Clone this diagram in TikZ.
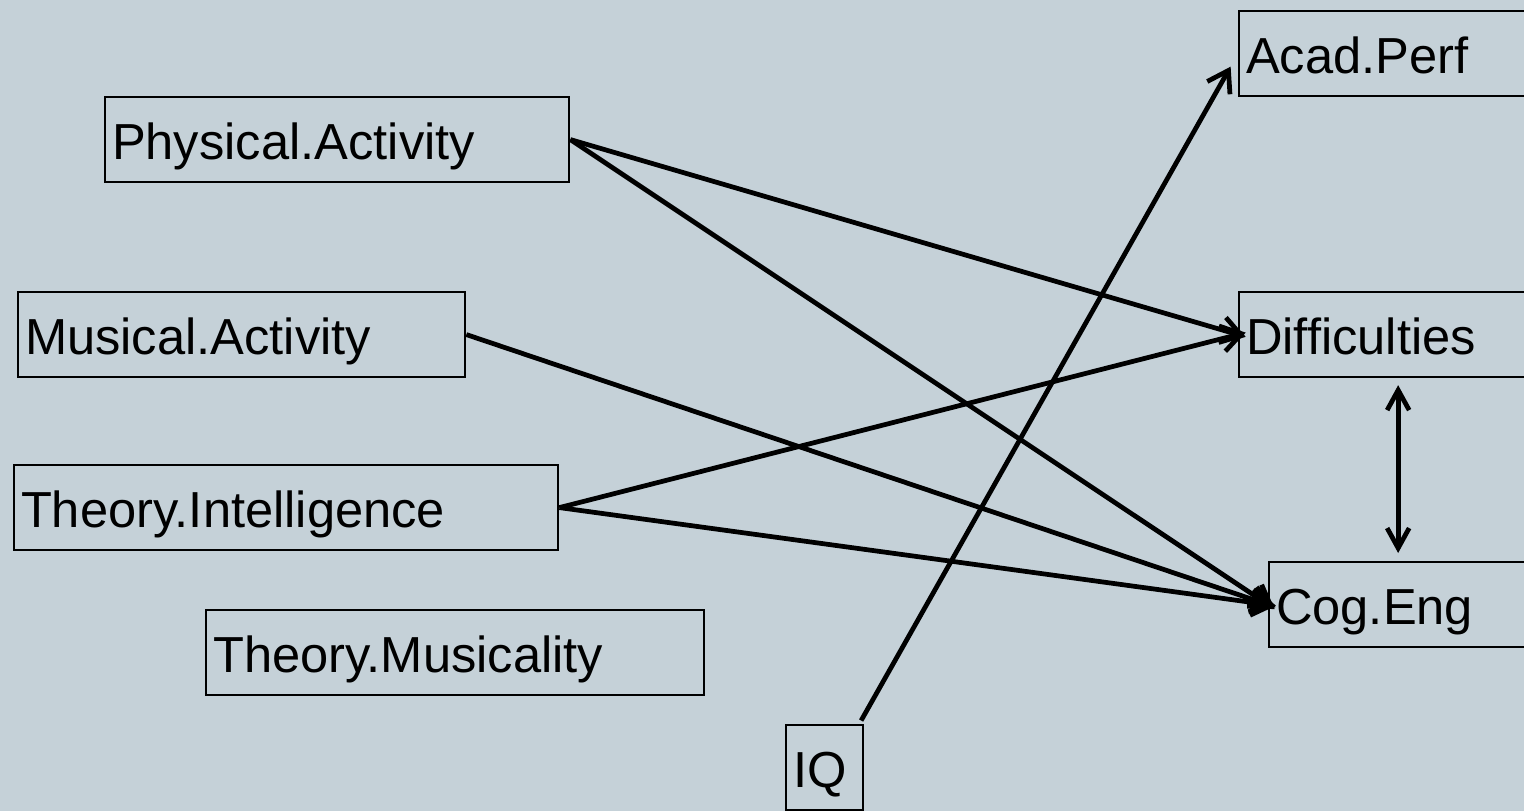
\documentclass[tikz,border=0pt]{standalone}
\usepackage{fontspec}
\setmainfont{Liberation Sans}
\usetikzlibrary{arrows.meta}
\definecolor{panel}{RGB}{197,209,216}

\begin{document}
\begin{tikzpicture}[x=0.01cm, y=-0.01cm,
  var/.style={draw, line width=0.6pt, minimum height=0.85cm, inner sep=0.07cm,
    text height=0.39cm, text depth=0pt,
    anchor=north west, align=left, font=\fontsize{14.4pt}{17pt}\selectfont},
  path/.style={line width=1.35pt, -{Straight Barb[length=0.2cm, width=0.26cm, line width=1.35pt]}},
  cov/.style={line width=1.35pt, {Straight Barb[length=0.2cm, width=0.22cm, line width=1.35pt]}-{Straight Barb[length=0.2cm, width=0.22cm, line width=1.35pt]}}]
\fill[panel] (0,0) rectangle (1524,811);
\useasboundingbox (0,0) rectangle (1524,811);
\clip (0,0) rectangle (1524,811);

% exogenous variables
\node (PA) [var, text width=4.50cm] at (104,96) {Physical.Activity};
\node (MA) [var, text width=4.33cm] at (17,291) {Musical.Activity};
\node (TI) [var, text width=5.30cm] at (13,464) {Theory.Intelligence};
\node (TM) [var, text width=4.84cm] at (205,609) {Theory.Musicality};
\node (IQ) [var, text width=0.63cm] at (785,724) {IQ};

% outcomes
\node (AP) [var, text width=3.04cm] at (1238,10) {Acad.Perf};
\node (DI) [var, text width=3.04cm] at (1238,291) {Difficulties};
\node (CE) [var, text width=3.04cm] at (1268,561) {Cog.Eng};

% regressions
\draw[path, shorten >=-0.08cm] (PA.east) -- (DI.west);
\draw[path, shorten >=-0.08cm] (PA.east) -- (CE.west);
\draw[path, shorten >=-0.08cm] (MA.east) -- (CE.west);
\draw[path, shorten >=-0.08cm] (TI.east) -- (DI.west);
\draw[path, shorten >=-0.08cm] (TI.east) -- (CE.west);
\draw[path, shorten <=0.04cm, shorten >=0.15cm] ([xshift=-0.05cm]IQ.north east) -- (AP.west);

% residual covariance
\draw[cov, shorten <=0.07cm, shorten >=0.08cm] (DI.south) -- (DI.south |- CE.north);
\end{tikzpicture}
\end{document}
